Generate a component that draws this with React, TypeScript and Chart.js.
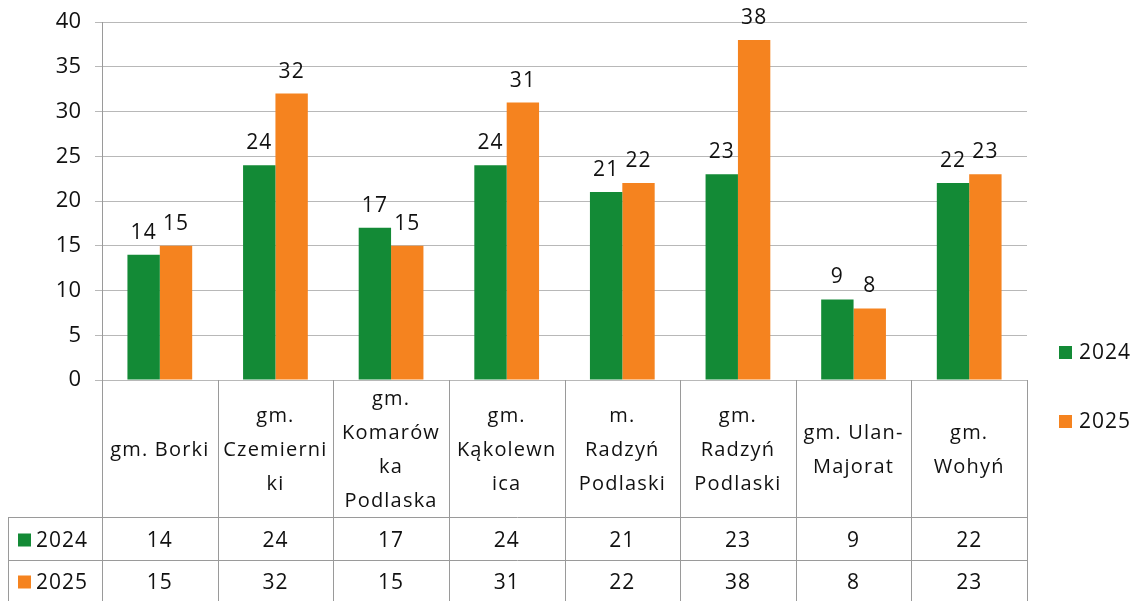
import React, { useEffect, useRef } from "react";
import { Chart, registerables } from "chart.js";

Chart.register(...registerables);

const categories: string[][] = [
  ["gm. Borki"],
  ["gm.", "Czemierni", "ki"],
  ["gm.", "Komarów", "ka", "Podlaska"],
  ["gm.", "Kąkolewn", "ica"],
  ["m.", "Radzyń", "Podlaski"],
  ["gm.", "Radzyń", "Podlaski"],
  ["gm. Ulan-", "Majorat"],
  ["gm.", "Wohyń"],
];
const seriesNames = ["2024", "2025"];
const values2024 = [14, 24, 17, 24, 21, 23, 9, 22];
const values2025 = [15, 32, 15, 31, 22, 38, 8, 23];
const seriesColors = ["#138a36", "#f5831f"];

const FONT = "'Open Sans', 'Noto Sans', sans-serif";
const TEXT = "#111111";
const LINE = "#9a9a9a";

const tablePlugin = {
  id: "tableAndLabels",
  afterDraw(chart: any) {
    const ctx = chart.ctx as CanvasRenderingContext2D;
    const area = chart.chartArea;
    const n = categories.length;
    const colW = (area.right - area.left) / n;
    const headerBottom = area.bottom + 137;
    const row1Bottom = headerBottom + 43;
    const tableBottom = chart.height + 5;
    const leftEdge = 8;

    ctx.save();
    (ctx as any).letterSpacing = "1px";
    // data labels
    ctx.font = `21px ${FONT}`;
    ctx.fillStyle = TEXT;
    ctx.textAlign = "center";
    ctx.textBaseline = "middle";
    chart.data.datasets.forEach((ds: any, di: number) => {
      const meta = chart.getDatasetMeta(di);
      meta.data.forEach((bar: any, i: number) => {
        ctx.fillText(String(ds.data[i]), bar.x, bar.y - 22);
      });
    });

    // table lines
    ctx.strokeStyle = LINE;
    ctx.lineWidth = 1;
    ctx.beginPath();
    for (let i = 0; i <= n; i++) {
      const x = Math.round(area.left + i * colW) + 0.5;
      ctx.moveTo(x, area.bottom);
      ctx.lineTo(x, tableBottom);
    }
    ctx.moveTo(leftEdge + 0.5, headerBottom);
    ctx.lineTo(leftEdge + 0.5, tableBottom);
    ctx.moveTo(leftEdge, headerBottom + 0.5);
    ctx.lineTo(area.right, headerBottom + 0.5);
    ctx.moveTo(leftEdge, row1Bottom + 0.5);
    ctx.lineTo(area.right, row1Bottom + 0.5);
    ctx.stroke();

    // header text
    (ctx as any).letterSpacing = "1.2px";
    ctx.font = `20px ${FONT}`;
    const lh = 34;
    const headerMid = (area.bottom + headerBottom) / 2 + 2;
    categories.forEach((lines, i) => {
      const cx = area.left + (i + 0.5) * colW;
      const startY = headerMid - ((lines.length - 1) * lh) / 2;
      lines.forEach((t, k) => ctx.fillText(t, cx, startY + k * lh));
    });

    // data rows
    (ctx as any).letterSpacing = "1px";
    const rows = [values2024, values2025];
    const rowMids = [(headerBottom + row1Bottom) / 2 + 3, (row1Bottom + chart.height) / 2 + 3];
    ctx.font = `21px ${FONT}`;
    rows.forEach((vals, r) => {
      vals.forEach((v, i) => {
        const cx = area.left + (i + 0.5) * colW;
        ctx.fillText(String(v), cx, rowMids[r]);
      });
      ctx.fillStyle = seriesColors[r];
      ctx.fillRect(18, rowMids[r] - 8, 13, 13);
      ctx.fillStyle = TEXT;
      ctx.textAlign = "left";
      ctx.fillText(seriesNames[r], 36, rowMids[r]);
      ctx.textAlign = "center";
    });

    // legend on the right
    const legendYs = [353, 422];
    seriesNames.forEach((name, r) => {
      ctx.fillStyle = seriesColors[r];
      ctx.fillRect(1059, legendYs[r] - 7, 13, 13);
      ctx.fillStyle = TEXT;
      ctx.textAlign = "left";
      ctx.fillText(name, 1079, legendYs[r]);
    });
    ctx.restore();
  },
};

export default function App() {
  const ref = useRef<HTMLCanvasElement>(null);
  useEffect(() => {
    if (!ref.current) return;
    const chart = new Chart(ref.current, {
      type: "bar",
      data: {
        labels: categories,
        datasets: [
          {
            label: seriesNames[0],
            data: values2024,
            backgroundColor: seriesColors[0],
            categoryPercentage: 0.56,
            barPercentage: 1,
          },
          {
            label: seriesNames[1],
            data: values2025,
            backgroundColor: seriesColors[1],
            categoryPercentage: 0.56,
            barPercentage: 1,
          },
        ],
      },
      options: {
        animation: false,
        responsive: false,
        layout: { padding: { top: 22, right: 110, bottom: 221, left: 0 } },
        plugins: { legend: { display: false }, tooltip: { enabled: false } },
        scales: {
          x: { display: false },
          y: {
            min: 0,
            max: 40,
            afterFit: (s: any) => {
              s.width = 102;
              s.paddingTop = 0;
              s.paddingBottom = 0;
            },
            ticks: {
              stepSize: 5,
              color: TEXT,
              padding: 14,
              font: { family: FONT, size: 22 },
            },
            grid: { color: "#b8b8b8", tickLength: 7 },
            border: { display: true, color: LINE },
          },
        },
      },
      plugins: [tablePlugin],
    });
    return () => chart.destroy();
  }, []);
  return (
    <div style={{ position: "fixed", left: 0, top: 0, width: 1137, height: 601, background: "#fff" }}>
      <canvas ref={ref} width={1137} height={601} />
    </div>
  );
}
